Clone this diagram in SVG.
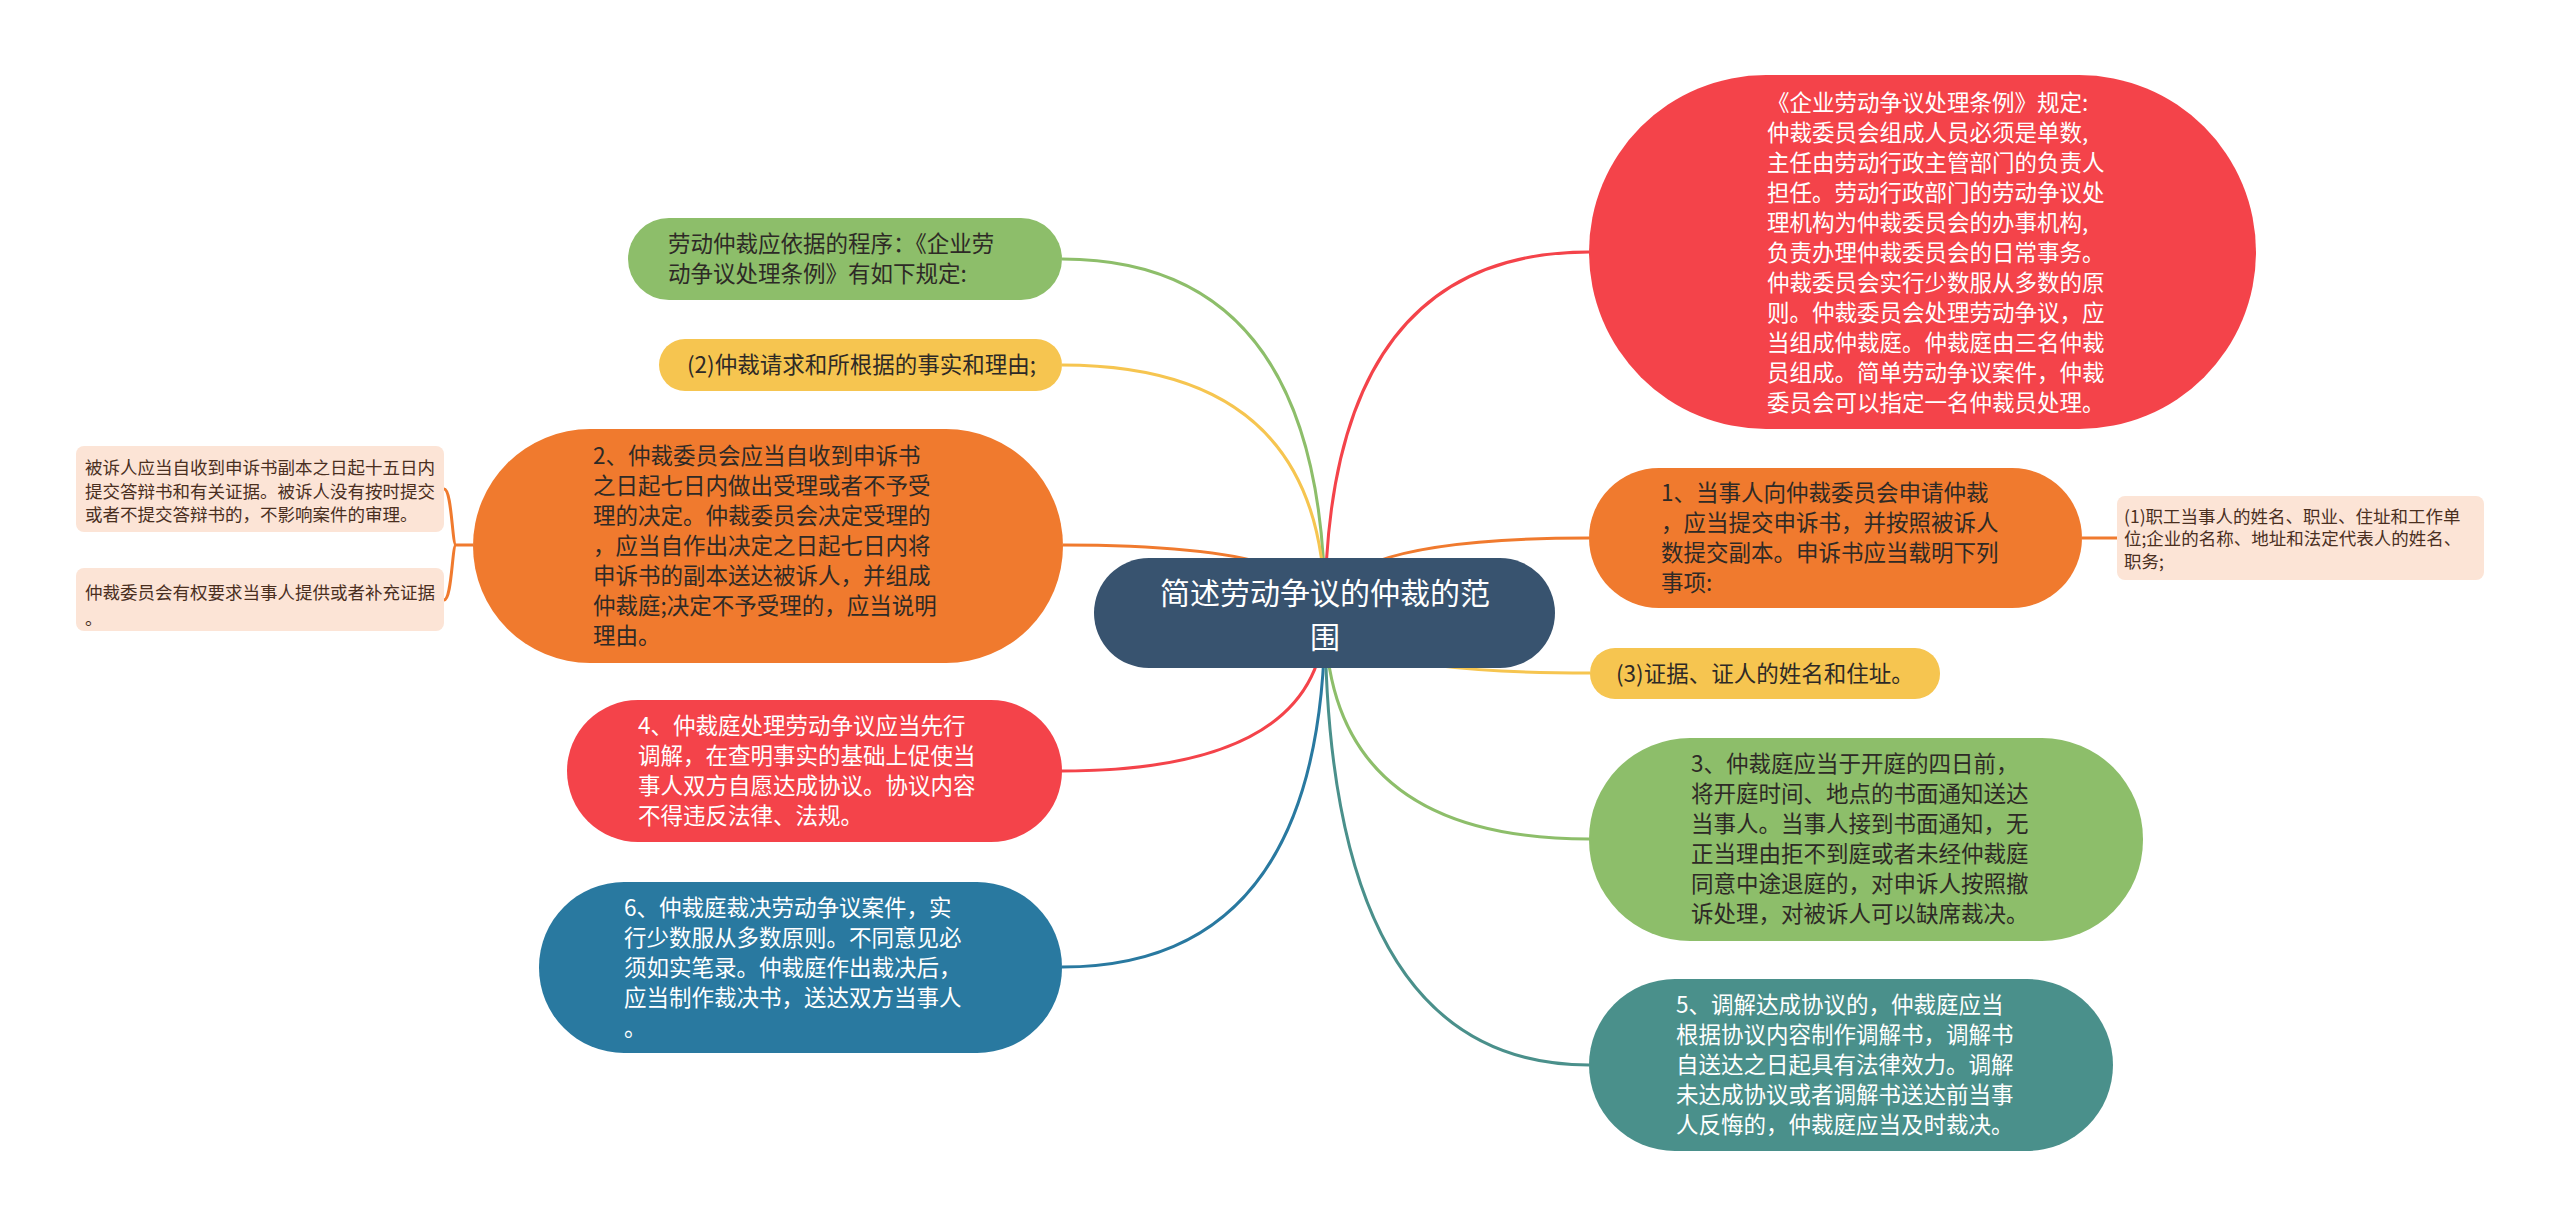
<svg xmlns="http://www.w3.org/2000/svg" width="2560" height="1227" viewBox="0 0 2560 1227">
<style>
text{font-family:"Noto Sans CJK SC","Noto Sans",sans-serif}
.t{font-size:22.5px}
.s{font-size:17.5px;fill:#4a2f1f}
.w{fill:#ffffff}
.d{fill:#2e2a26}
.c{fill:none;stroke-width:3}
</style>
<rect width="2560" height="1227" fill="#ffffff"/>
<g id="connectors">
<path class="c" stroke="#8DBE6A" d="M1325,613 Q1325,259 1062,259"/>
<path class="c" stroke="#F6C550" d="M1325,613 Q1325,365 1062,365"/>
<path class="c" stroke="#F07A2E" d="M1325,613 Q1325,545 1063,545"/>
<path class="c" stroke="#F4434A" d="M1325,613 Q1325,771 1061,771"/>
<path class="c" stroke="#2979A0" d="M1325,613 Q1325,967 1062,967"/>
<path class="c" stroke="#F4434A" d="M1325,613 Q1325,252 1589,252"/>
<path class="c" stroke="#F07A2E" d="M1325,613 Q1325,538 1589,538"/>
<path class="c" stroke="#F6C550" d="M1325,613 Q1325,673 1590,673"/>
<path class="c" stroke="#8DBE6A" d="M1325,613 Q1325,839 1589,839"/>
<path class="c" stroke="#4A908B" d="M1325,613 Q1325,1065 1589,1065"/>
<path class="c" stroke="#F07A2E" d="M473,545 L456,545 M456,545 C452,545 452,489 444,489 M456,545 C452,545 452,600 444,600"/>
<path class="c" stroke="#F07A2E" d="M2082,538 L2117,538"/>
</g>
<g id="root">
<rect x="1094" y="558" width="461" height="110" rx="55" fill="#38536F"/>
<text class="w" x="1325" y="604" font-size="30" text-anchor="middle">简述劳动争议的仲裁的范</text>
<text class="w" x="1325" y="648" font-size="30" text-anchor="middle">围</text>
</g>
<g id="n-rule">
<rect x="1589" y="75" width="667" height="354" rx="177" fill="#F4434A"/>
<text class="t w" x="1767">
<tspan x="1767" y="111">《企业劳动争议处理条例》规定:</tspan>
<tspan x="1767" y="141">仲裁委员会组成人员必须是单数,</tspan>
<tspan x="1767" y="171">主任由劳动行政主管部门的负责人</tspan>
<tspan x="1767" y="201">担任。劳动行政部门的劳动争议处</tspan>
<tspan x="1767" y="231">理机构为仲裁委员会的办事机构,</tspan>
<tspan x="1767" y="261">负责办理仲裁委员会的日常事务。</tspan>
<tspan x="1767" y="291">仲裁委员会实行少数服从多数的原</tspan>
<tspan x="1767" y="321">则。仲裁委员会处理劳动争议，应</tspan>
<tspan x="1767" y="351">当组成仲裁庭。仲裁庭由三名仲裁</tspan>
<tspan x="1767" y="381">员组成。简单劳动争议案件，仲裁</tspan>
<tspan x="1767" y="411">委员会可以指定一名仲裁员处理。</tspan>
</text>
</g>
<g id="n-procedure">
<rect x="628" y="218" width="434" height="82" rx="41" fill="#8DBE6A"/>
<text class="t d">
<tspan x="668" y="252">劳动仲裁应依据的程序：《企业劳</tspan>
<tspan x="668" y="282">动争议处理条例》有如下规定:</tspan>
</text>
</g>
<g id="n-item2">
<rect x="659" y="339" width="403" height="52" rx="26" fill="#F6C550"/>
<text class="t d" x="687" y="373">(2)仲裁请求和所根据的事实和理由;</text>
</g>
<g id="n-step2">
<rect x="473" y="429" width="590" height="234" rx="117" fill="#F07A2E"/>
<text class="t d">
<tspan x="593" y="464">2、仲裁委员会应当自收到申诉书</tspan>
<tspan x="593" y="494">之日起七日内做出受理或者不予受</tspan>
<tspan x="593" y="524">理的决定。仲裁委员会决定受理的</tspan>
<tspan x="593" y="554">，应当自作出决定之日起七日内将</tspan>
<tspan x="593" y="584">申诉书的副本送达被诉人，并组成</tspan>
<tspan x="593" y="614">仲裁庭;决定不予受理的，应当说明</tspan>
<tspan x="593" y="644">理由。</tspan>
</text>
</g>
<g id="n-defense">
<rect x="76" y="446" width="368" height="86" rx="8" fill="#FCE4D6"/>
<text class="s">
<tspan x="85" y="474">被诉人应当自收到申诉书副本之日起十五日内</tspan>
<tspan x="85" y="498">提交答辩书和有关证据。被诉人没有按时提交</tspan>
<tspan x="85" y="521">或者不提交答辩书的，不影响案件的审理。</tspan>
</text>
</g>
<g id="n-evidence">
<rect x="76" y="568" width="368" height="63" rx="8" fill="#FCE4D6"/>
<text class="s">
<tspan x="85" y="599">仲裁委员会有权要求当事人提供或者补充证据</tspan>
<tspan x="85" y="625">。</tspan>
</text>
</g>
<g id="n-step4">
<rect x="567" y="700" width="495" height="142" rx="71" fill="#F4434A"/>
<text class="t w">
<tspan x="638" y="734">4、仲裁庭处理劳动争议应当先行</tspan>
<tspan x="638" y="764">调解，在查明事实的基础上促使当</tspan>
<tspan x="638" y="794">事人双方自愿达成协议。协议内容</tspan>
<tspan x="638" y="824">不得违反法律、法规。</tspan>
</text>
</g>
<g id="n-step6">
<rect x="539" y="882" width="523" height="171" rx="85" fill="#2979A0"/>
<text class="t w">
<tspan x="624" y="916">6、仲裁庭裁决劳动争议案件，实</tspan>
<tspan x="624" y="946">行少数服从多数原则。不同意见必</tspan>
<tspan x="624" y="976">须如实笔录。仲裁庭作出裁决后，</tspan>
<tspan x="624" y="1006">应当制作裁决书，送达双方当事人</tspan>
<tspan x="624" y="1036">。</tspan>
</text>
</g>
<g id="n-step1">
<rect x="1589" y="468" width="493" height="140" rx="70" fill="#F07A2E"/>
<text class="t d">
<tspan x="1661" y="501">1、当事人向仲裁委员会申请仲裁</tspan>
<tspan x="1661" y="531">，应当提交申诉书，并按照被诉人</tspan>
<tspan x="1661" y="561">数提交副本。申诉书应当载明下列</tspan>
<tspan x="1661" y="591">事项:</tspan>
</text>
</g>
<g id="n-item1">
<rect x="2117" y="496" width="367" height="84" rx="8" fill="#FCE4D6"/>
<text class="s">
<tspan x="2124" y="523">(1)职工当事人的姓名、职业、住址和工作单</tspan>
<tspan x="2124" y="545">位;企业的名称、地址和法定代表人的姓名、</tspan>
<tspan x="2124" y="568">职务;</tspan>
</text>
</g>
<g id="n-item3">
<rect x="1590" y="648" width="350" height="51" rx="25" fill="#F6C550"/>
<text class="t d" x="1616" y="682">(3)证据、证人的姓名和住址。</text>
</g>
<g id="n-step3">
<rect x="1589" y="738" width="554" height="203" rx="101" fill="#8DBE6A"/>
<text class="t d">
<tspan x="1691" y="772">3、仲裁庭应当于开庭的四日前，</tspan>
<tspan x="1691" y="802">将开庭时间、地点的书面通知送达</tspan>
<tspan x="1691" y="832">当事人。当事人接到书面通知，无</tspan>
<tspan x="1691" y="862">正当理由拒不到庭或者未经仲裁庭</tspan>
<tspan x="1691" y="892">同意中途退庭的，对申诉人按照撤</tspan>
<tspan x="1691" y="922">诉处理，对被诉人可以缺席裁决。</tspan>
</text>
</g>
<g id="n-step5">
<rect x="1589" y="979" width="524" height="172" rx="86" fill="#4A908B"/>
<text class="t w">
<tspan x="1676" y="1013">5、调解达成协议的，仲裁庭应当</tspan>
<tspan x="1676" y="1043">根据协议内容制作调解书，调解书</tspan>
<tspan x="1676" y="1073">自送达之日起具有法律效力。调解</tspan>
<tspan x="1676" y="1103">未达成协议或者调解书送达前当事</tspan>
<tspan x="1676" y="1133">人反悔的，仲裁庭应当及时裁决。</tspan>
</text>
</g>
</svg>
